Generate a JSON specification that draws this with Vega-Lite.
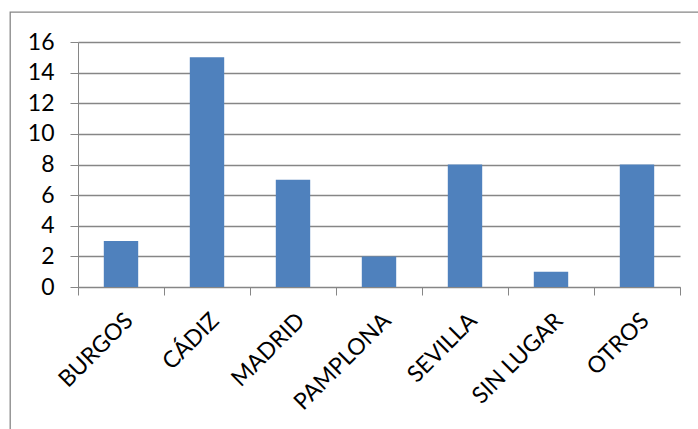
{
  "$schema": "https://vega.github.io/schema/vega-lite/v6.json",
  "description": "Bar chart of counts by place, Excel style.",
  "autosize": "none",
  "padding": {"left": 10, "top": 12, "right": 0, "bottom": 0},
  "width": 690,
  "height": 420,
  "background": "white",
  "data": {
    "values": [
      {"lugar": "BURGOS", "n": 3},
      {"lugar": "CÁDIZ", "n": 15},
      {"lugar": "MADRID", "n": 7},
      {"lugar": "PAMPLONA", "n": 2},
      {"lugar": "SEVILLA", "n": 8},
      {"lugar": "SIN LUGAR", "n": 1},
      {"lugar": "OTROS", "n": 8}
    ]
  },
  "mark": {"type": "bar", "color": "#4F81BD", "width": {"band": 0.4}},
  "encoding": {
    "x": {
      "field": "lugar",
      "type": "nominal",
      "sort": null,
      "title": null,
      "scale": {"range": [68, 670], "paddingInner": 0, "paddingOuter": 0},
      "axis": {
        "offset": -145,
        "tickBand": "extent",
        "labelAngle": -45,
        "labelFont": "Lato",
        "labelFontSize": 23,
        "labelColor": "black",
        "labelPadding": 14,
        "domainColor": "#868686",
        "tickColor": "#868686",
        "tickSize": 8,
        "grid": false
      }
    },
    "y": {
      "field": "n",
      "type": "quantitative",
      "title": null,
      "scale": {"domain": [0, 16], "range": [275, 30], "nice": false},
      "axis": {
        "offset": -68,
        "values": [0, 2, 4, 6, 8, 10, 12, 14, 16],
        "labelFont": "Lato",
        "labelFontSize": 23,
        "labelColor": "black",
        "labelPadding": 16,
        "domainColor": "#868686",
        "tickColor": "#868686",
        "tickSize": 8,
        "gridColor": "#868686",
        "gridWidth": 1.3
      }
    }
  },
  "config": {
    "view": {"stroke": "#868686", "strokeWidth": 1.3}
  }
}
